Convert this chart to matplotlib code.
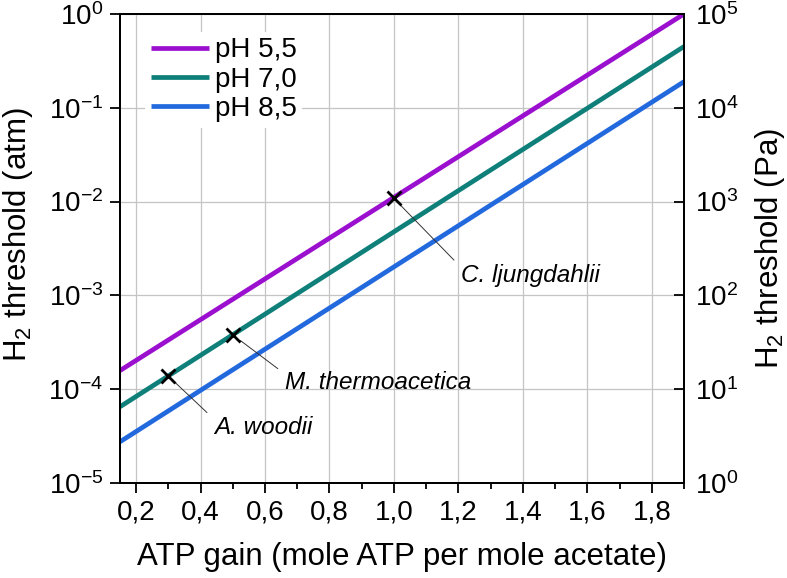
import numpy as np
import matplotlib
matplotlib.use('Agg')
import matplotlib.pyplot as plt
from matplotlib.ticker import FixedLocator, FixedFormatter, LogLocator, NullLocator

plt.rcParams['font.family'] = ['Liberation Sans', 'DejaVu Sans']
plt.rcParams['mathtext.fontset'] = 'custom'
plt.rcParams['mathtext.rm'] = 'Liberation Sans'
plt.rcParams['mathtext.it'] = 'Liberation Sans:italic'
plt.rcParams['axes.unicode_minus'] = False

# Données (extrémités des droites)
atp = [0.15, 1.9]
h2_ph55 = [1.58e-4, 1.0]
h2_ph70 = [6.5e-5, 0.45]
h2_ph85 = [2.75e-5, 0.19]
noms = ['pH 5,5', 'pH 7,0', 'pH 8,5']
couleurs = ['#9b0fcf', '#0f7f7a', '#2369de']

# Organismes
orgs = ['A. woodii', 'M. thermoacetica', 'C. ljungdahlii']
org_x = [0.3, 0.5, 1.0]
org_y = [1.38e-4, 3.8e-4, 1.08e-2]
org_txt_x = [0.441, 0.662, 1.207]
org_txt_y = [3.95e-5, 1.19e-4, 1.65e-3]

xticks = [0.2, 0.4, 0.6, 0.8, 1.0, 1.2, 1.4, 1.6, 1.8]
xlabels = ['0,2', '0,4', '0,6', '0,8', '1,0', '1,2', '1,4', '1,6', '1,8']
xminor = [0.3, 0.5, 0.7, 0.9, 1.1, 1.3, 1.5, 1.7, 1.9]

fig = plt.figure(figsize=(7.87, 5.78), dpi=100)
ax = fig.add_axes([120/787, 1-483/578, 564/787, 469/578])

for ys, nom, c in zip([h2_ph55, h2_ph70, h2_ph85], noms, couleurs):
    ax.plot(atp, ys, color=c, lw=3.4, label=nom, solid_capstyle='butt')

ax.plot(org_x, org_y, 'x', color='black', ms=10, mew=2, zorder=5)

for nom, x, y, tx, ty in zip(orgs, org_x, org_y, org_txt_x, org_txt_y):
    ax.annotate(nom, xy=(x, y), xytext=(tx, ty), fontsize=17.5, style='italic',
                ha='left', va='center',
                arrowprops=dict(arrowstyle='-', color='#333333', lw=0.7,
                                relpos=(0, 0.85), shrinkA=4, shrinkB=7))

ax.set_yscale('log')
ax.set_xlim(0.15, 1.9)
ax.set_ylim(1e-5, 1e0)
ax.xaxis.set_major_locator(FixedLocator(xticks))
ax.xaxis.set_major_formatter(FixedFormatter(xlabels))
ax.xaxis.set_minor_locator(FixedLocator(xminor))
ax.yaxis.set_major_locator(LogLocator(base=10, numticks=10))
ax.yaxis.set_minor_locator(NullLocator())
ax.grid(True, which='major', color='#c4c4c4', lw=0.9)
ax.set_axisbelow(True)

ax.tick_params(axis='x', which='major', direction='out', length=7, width=1.3, labelsize=20, pad=5)
ax.tick_params(axis='x', which='minor', direction='out', length=4, width=1.3)
ax.tick_params(axis='y', which='major', direction='out', length=7, width=1.3, labelsize=20, pad=5)
ax.tick_params(top=False)
for s in ax.spines.values():
    s.set_linewidth(1.4)

ax.set_xlabel('ATP gain (mole ATP per mole acetate)', fontsize=22.5, labelpad=12)
ax.set_ylabel('H$_2$ threshold (atm)', fontsize=22.5)
ax.yaxis.set_label_coords(-0.15, 0.53)

ax2 = ax.twinx()
ax2.set_yscale('log')
ax2.set_ylim(1e0, 1e5)
ax2.yaxis.set_major_locator(LogLocator(base=10, numticks=10))
ax2.yaxis.set_minor_locator(NullLocator())
ax2.tick_params(axis='y', which='major', direction='in', length=7, width=1.3, labelsize=20, pad=8)
ax2.set_ylabel('H$_2$ threshold (Pa)', fontsize=22.5, labelpad=10)
for s in ax2.spines.values():
    s.set_linewidth(1.4)

leg = ax.legend(loc='upper left', bbox_to_anchor=(0.045, 0.962), fontsize=20,
                frameon=True, facecolor='white', edgecolor='none', framealpha=1,
                handlelength=2.1, handletextpad=0.2, labelspacing=0.12,
                borderpad=0.2, borderaxespad=0)
leg.set_zorder(10)

fig.savefig('out.png', dpi=100)
